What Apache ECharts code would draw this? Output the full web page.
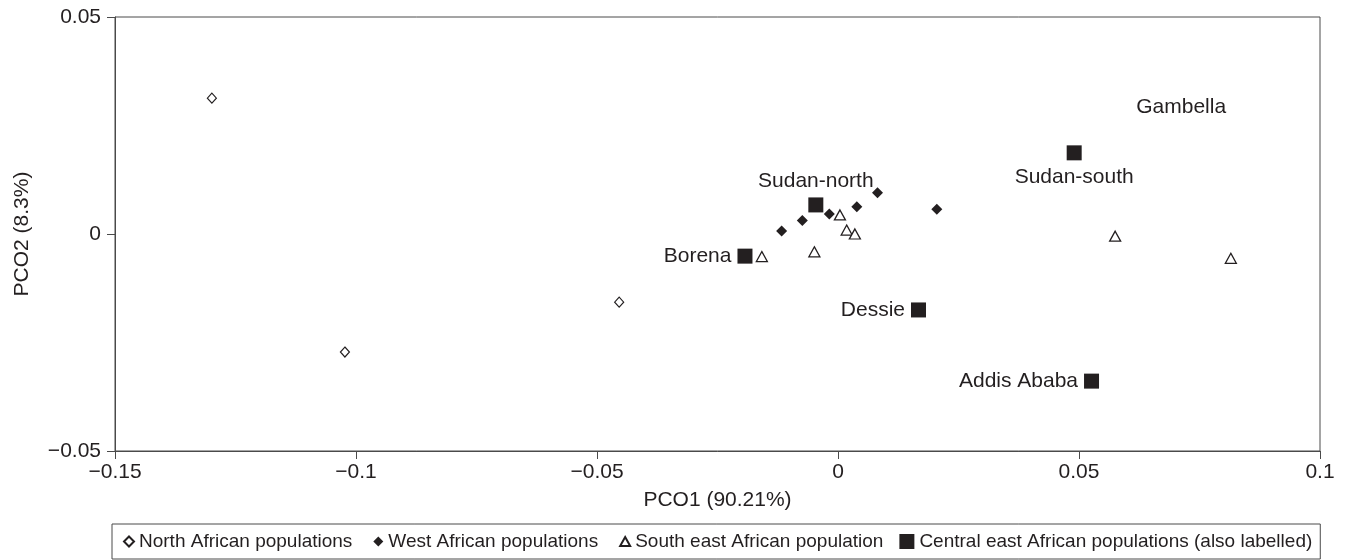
<!DOCTYPE html>
<html>
<head>
<meta charset="utf-8">
<script src="https://cdn.jsdelivr.net/npm/echarts@6/dist/echarts.min.js"></script>
<style>
html,body{margin:0;padding:0;background:#fff;}
#chart{width:1353px;height:560px;}
</style>
</head>
<body>
<div id="chart"></div>
<script>
// ---- data ----
const seriesNames = [
  'North African populations',
  'West African populations',
  'South east African population',
  'Central east African populations (also labelled)'
];
const northX = [-0.1299, -0.1023, -0.0454];
const northY = [0.0313, -0.0272, -0.0157];

const westX = [-0.0117, -0.0074, -0.0018, 0.0039, 0.0082, 0.0205];
const westY = [0.0007, 0.0031, 0.0046, 0.0063, 0.0095, 0.0057];

const southEastX = [-0.0158, -0.0049, 0.0004, 0.0018, 0.0035, 0.0575, 0.0815];
const southEastY = [-0.0052, -0.0041, 0.0044, 0.0009, 0.0000, -0.0005, -0.0056];

const centralNames = ['Sudan-north', 'Borena', 'Sudan-south', 'Dessie', 'Addis Ababa', 'Gambella'];
const centralX = [-0.0046, -0.0193, 0.0490, 0.0167, 0.0526, 0.0712];
const centralY = [0.0067, -0.0051, 0.0187, -0.0175, -0.0339, 0.0293];
const centralLabelPos = ['top', 'left', 'bottom', 'left', 'left', 'inside'];
const centralMarkerShown = [true, true, true, true, true, false];

const xTicks = [-0.15, -0.1, -0.05, 0, 0.05, 0.1];
const yTicks = [-0.05, 0, 0.05];

// ---- chart ----
const FONT = '"Liberation Sans", Arial, Helvetica, sans-serif';
const INK = '#231f20';
const AXIS = '#4a4a4a';

function zip(xs, ys) { return xs.map((x, i) => [x, ys[i]]); }
function fmt(v) {
  const r = Math.round(v * 100) / 100;
  return String(r).replace('-', '\u2212');
}

const centralData = centralX.map((x, i) => ({
  name: centralNames[i],
  value: [x, centralY[i]],
  symbolSize: centralMarkerShown[i] ? 15 : 0,
  label: { position: centralLabelPos[i] }
}));

// legend icons: bounding box 15x15, small shapes pushed to the right
const iconDiamond = 'path://M0,0 M15,15 M10,2.5 L15,7.5 L10,12.5 L5,7.5 Z';
const iconTriangle = 'path://M0,0 M15,15 M10,3 L15,12 L5,12 Z';
const iconSquare = 'path://M0,0 L15,0 L15,15 L0,15 Z';

const chart = echarts.init(document.getElementById('chart'), null, { renderer: 'canvas' });
chart.setOption({
  animation: false,
  backgroundColor: '#fff',
  textStyle: { fontFamily: FONT, color: INK },
  grid: {
    left: 115, right: 33, top: 17, bottom: 109,
    show: true, borderColor: AXIS, borderWidth: 1, backgroundColor: 'transparent'
  },
  legend: {
    top: 524,
    left: 112,
    orient: 'horizontal',
    padding: [8, 8, 8, 6],
    itemGap: 16,
    itemWidth: 15,
    itemHeight: 15,
    borderColor: AXIS,
    borderWidth: 1,
    textStyle: { fontFamily: FONT, fontSize: 19, color: INK },
    data: [
      { name: seriesNames[0], icon: iconDiamond },
      { name: seriesNames[1], icon: iconDiamond },
      { name: seriesNames[2], icon: iconTriangle },
      { name: seriesNames[3], icon: iconSquare }
    ]
  },
  xAxis: {
    type: 'value',
    min: xTicks[0], max: xTicks[xTicks.length - 1], interval: 0.05,
    name: 'PCO1 (90.21%)',
    nameLocation: 'middle',
    nameGap: 39,
    nameTextStyle: { fontFamily: FONT, fontSize: 21, color: INK },
    axisLine: { show: true, onZero: false, lineStyle: { color: AXIS, width: 1 } },
    axisTick: { show: true, inside: false, length: 8, lineStyle: { color: AXIS } },
    axisLabel: { fontFamily: FONT, fontSize: 21, color: INK, margin: 11, formatter: fmt },
    splitLine: { show: false }
  },
  yAxis: {
    type: 'value',
    min: yTicks[0], max: yTicks[yTicks.length - 1], interval: 0.05,
    name: 'PCO2 (8.3%)',
    nameLocation: 'middle',
    nameGap: 82,
    nameRotate: 90,
    nameTextStyle: { fontFamily: FONT, fontSize: 21, color: INK },
    axisLine: { show: true, onZero: false, lineStyle: { color: AXIS, width: 1 } },
    axisTick: { show: true, inside: false, length: 8, lineStyle: { color: AXIS } },
    axisLabel: { fontFamily: FONT, fontSize: 21, color: INK, margin: 14, formatter: fmt },
    splitLine: { show: false }
  },
  series: [
    {
      name: seriesNames[0], type: 'scatter',
      symbol: 'diamond', symbolSize: [9, 10],
      itemStyle: { color: '#fff', borderColor: INK, borderWidth: 1.2, opacity: 1 },
      data: zip(northX, northY)
    },
    {
      name: seriesNames[1], type: 'scatter',
      symbol: 'diamond', symbolSize: [11, 11],
      itemStyle: { color: INK, borderColor: INK, borderWidth: 0, opacity: 1 },
      data: zip(westX, westY)
    },
    {
      name: seriesNames[2], type: 'scatter',
      symbol: 'triangle', symbolSize: [11, 10],
      itemStyle: { color: '#fff', borderColor: INK, borderWidth: 1.3, opacity: 1 },
      data: zip(southEastX, southEastY)
    },
    {
      name: seriesNames[3], type: 'scatter',
      symbol: 'rect',
      itemStyle: { color: INK, borderWidth: 0, opacity: 1 },
      label: {
        show: true, formatter: '{b}', distance: 6,
        fontFamily: FONT, fontSize: 21, color: INK
      },
      data: centralData
    }
  ]
});
</script>
</body>
</html>
